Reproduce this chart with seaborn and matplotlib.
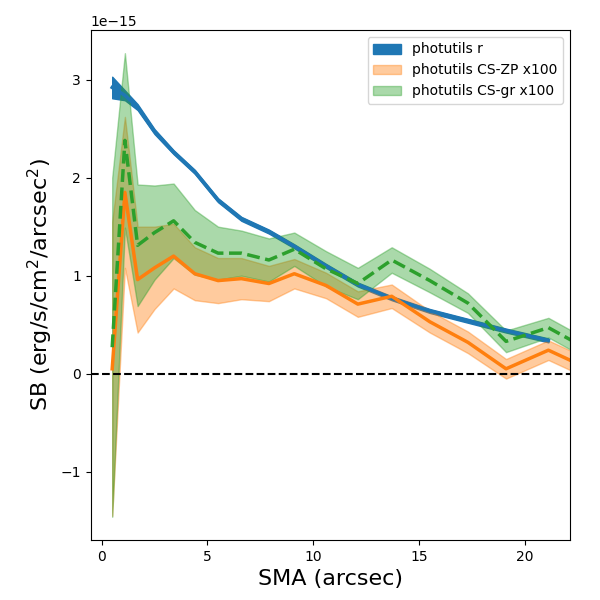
import numpy as np
import pandas as pd
import seaborn as sns
import matplotlib
matplotlib.use("Agg")
import matplotlib.pyplot as plt

# semi-major axis (arcsec)
sma = [0.5, 1.1, 1.7, 2.5, 3.4, 4.4, 5.5, 6.6, 7.9, 9.1,
       10.6, 12.1, 13.7, 15.5, 17.3, 19.1, 21.1]
sma_cs = sma + [23.2]

# surface brightness, units of 1e-15
sb_r = [2.92, 2.84, 2.72, 2.47, 2.26, 2.06, 1.77, 1.58, 1.45, 1.30,
        1.10, 0.91, 0.77, 0.64, 0.54, 0.44, 0.34]
err_r = [0.11, 0.05, 0.03, 0.025, 0.02, 0.02, 0.02, 0.02, 0.02, 0.02,
         0.02, 0.02, 0.02, 0.02, 0.02, 0.02, 0.02]

sb_zp = [0.05, 1.85, 0.96, 1.08, 1.20, 1.02, 0.95, 0.97, 0.92, 1.02,
         0.90, 0.71, 0.79, 0.53, 0.32, 0.05, 0.24, 0.03]
err_zp = [1.50, 0.77, 0.54, 0.42, 0.33, 0.27, 0.23, 0.21, 0.18, 0.15,
          0.13, 0.13, 0.12, 0.11, 0.11, 0.10, 0.10, 0.10]

sb_gr = [0.27, 2.38, 1.31, 1.44, 1.56, 1.34, 1.23, 1.23, 1.16, 1.27,
         1.07, 0.92, 1.16, 0.95, 0.72, 0.33, 0.47, 0.22]
err_gr = [1.73, 0.89, 0.62, 0.48, 0.38, 0.33, 0.27, 0.23, 0.22, 0.17,
          0.18, 0.16, 0.13, 0.12, 0.10, 0.11, 0.10, 0.10]

scale = 1e-15

df_r = pd.DataFrame({"sma": sma, "sb": np.array(sb_r) * scale, "err": np.array(err_r) * scale})
df_zp = pd.DataFrame({"sma": sma_cs, "sb": np.array(sb_zp) * scale, "err": np.array(err_zp) * scale})
df_gr = pd.DataFrame({"sma": sma_cs, "sb": np.array(sb_gr) * scale, "err": np.array(err_gr) * scale})

fig, ax = plt.subplots(figsize=(6, 6), dpi=100)

# bands first
ax.fill_between(df_r.sma, df_r.sb - df_r.err, df_r.sb + df_r.err,
                color="C0", alpha=1.0, label="photutils r")
ax.fill_between(df_zp.sma, df_zp.sb - df_zp.err, df_zp.sb + df_zp.err,
                color="C1", alpha=0.4, label="photutils CS-ZP x100")
ax.fill_between(df_gr.sma, df_gr.sb - df_gr.err, df_gr.sb + df_gr.err,
                color="C2", alpha=0.4, label="photutils CS-gr x100")

# then the profiles
sns.lineplot(data=df_r, x="sma", y="sb", color="C0", lw=2.5, ax=ax, legend=False)
sns.lineplot(data=df_zp, x="sma", y="sb", color="C1", lw=2.5, ax=ax, legend=False)
sns.lineplot(data=df_gr, x="sma", y="sb", color="C2", lw=2.5, ls="--", ax=ax, legend=False)

ax.axhline(0, color="k", ls="--", lw=1.5)

ax.set_xlim(-0.52, 22.12)
ax.set_xlabel("SMA (arcsec)", fontsize=16)
ax.set_ylabel("SB (erg/s/cm$^2$/arcsec$^2$)", fontsize=16)
ax.legend(loc="upper right")

fig.subplots_adjust(left=0.151, right=0.95, bottom=0.1, top=0.95)
fig.savefig("out.png", dpi=100)
